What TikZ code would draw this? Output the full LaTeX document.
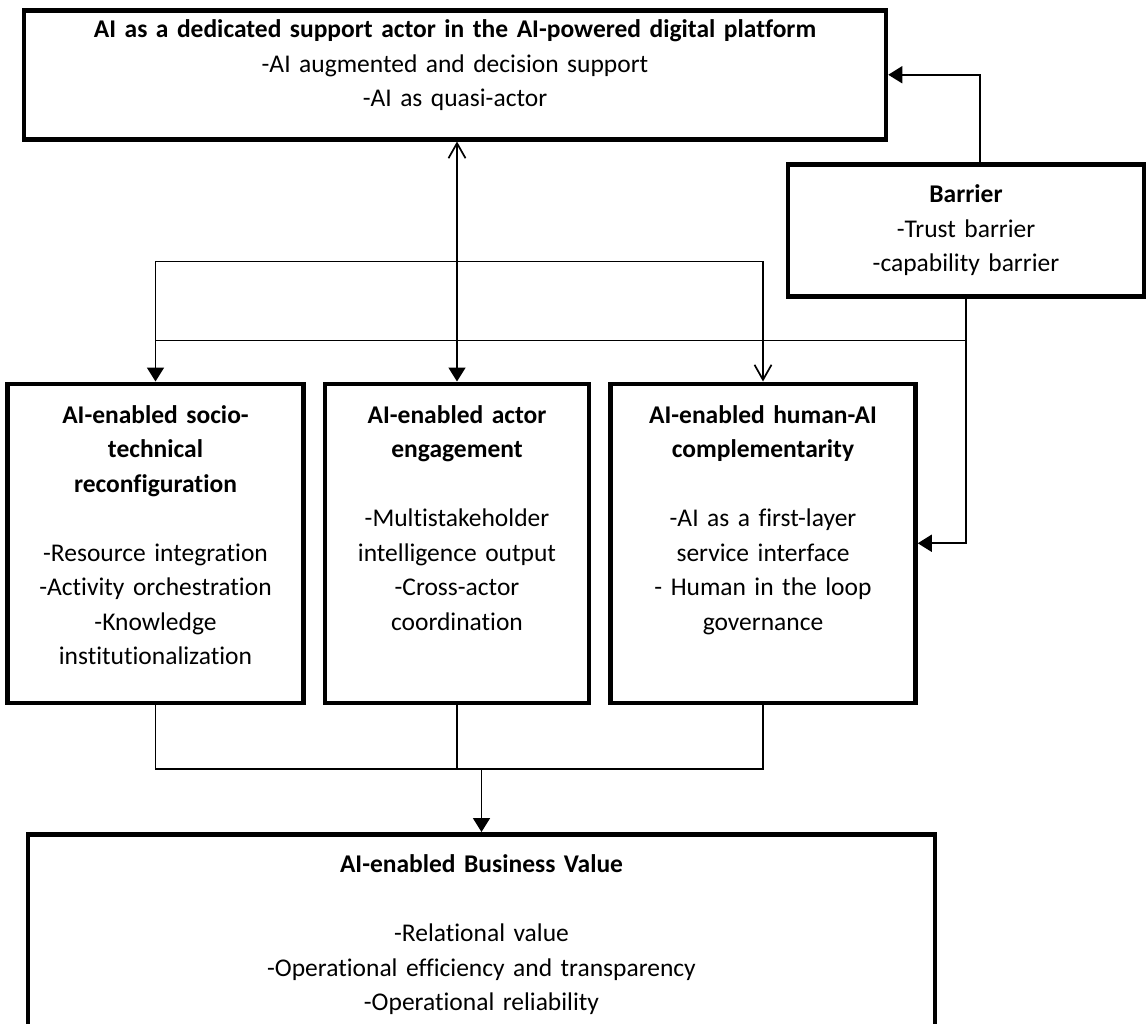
\documentclass[tikz,border=0pt]{standalone}
\usepackage{fontspec}
\setmainfont{Carlito}[Ligatures=NoCommon]
\usetikzlibrary{positioning, arrows.meta, calc}

\newcommand{\boxfont}{\fontsize{25.5}{34.5}\selectfont}

\begin{document}
\begin{tikzpicture}[
    x=1pt, y=1pt,
    node distance=17pt,
    font=\boxfont,
    box/.style={rectangle, draw=black, line width=4.5pt, inner sep=0pt, align=center},
    arrow/.style={-{Triangle[width=17pt,length=14pt]}, line width=1.7pt},
    openarrow/.style={-{Straight Barb[width=17pt,length=15pt]}, line width=1.7pt},
    link/.style={line width=1.7pt},
]
\useasboundingbox (0,0) rectangle (1146,-1023);

% Top actor
\node[box, anchor=north, text width=862pt, text height=27.5pt, text depth=101.5pt] (ai) at (455,-8)
    {\textbf{AI as a dedicated support actor in the AI-powered digital platform}\\-AI augmented and decision support\\-AI as quasi-actor};

% Barrier
\node[box, anchor=north, text width=356pt, text height=38.5pt, text depth=93.5pt] (barrier) at (966,-162)
    {\textbf{Barrier}\\-Trust barrier\\-capability barrier};

% Middle row
\node[box, below=240pt of ai, xshift=2pt, text width=264pt, text height=39.5pt, text depth=279.5pt] (engage)
    {\textbf{AI-enabled actor}\\\textbf{engagement}\\[34.5pt]-Multistakeholder\\intelligence output\\-Cross-actor\\coordination};
\node[box, left=of engage, text width=296pt, text height=39.5pt, text depth=279.5pt] (socio)
    {\textbf{AI-enabled socio-}\\\textbf{technical}\\\textbf{reconfiguration}\\[34.5pt]-Resource integration\\-Activity orchestration\\-Knowledge\\institutionalization};
\node[box, right=of engage, text width=305pt, text height=39.5pt, text depth=279.5pt] (human)
    {\textbf{AI-enabled human-AI}\\\textbf{complementarity}\\[34.5pt]-AI as a first-layer\\service interface\\- Human in the loop\\governance};

% Business value
\node[box, below=127pt of engage, xshift=24.5pt, text width=907pt, text height=38.5pt, text depth=156.5pt] (value)
    {\textbf{AI-enabled Business Value}\\[34.5pt]-Relational value\\-Operational efficiency and transparency\\-Operational reliability};

% AI actor to middle row
\draw[link, {Straight Barb[width=17pt,length=15pt]}-{Triangle[width=17pt,length=14pt]}] (engage.north |- ai.south) -- (engage.north);
\coordinate (fork) at ($(engage.north)+(0,120)$);
\draw[arrow] (fork) -| (socio.north);
\draw[openarrow] (fork) -| (human.north);

% Barrier links
\draw[arrow] ([xshift=14pt]barrier.north) |- (ai.east);
\coordinate (split) at ($(barrier.south)+(0,-42)$);
\draw[link] (split) -- (split -| socio.north);
\draw[arrow] (barrier.south) |- (human.east);

% Middle row to value
\coordinate (merge) at ($(value.north)+(0,63)$);
\draw[link] (socio.south) |- (merge -| human.south) -- (human.south);
\draw[link] (engage.south) -- (engage.south |- merge);
\draw[arrow] (merge) -- (value.north);

\end{tikzpicture}
\end{document}
